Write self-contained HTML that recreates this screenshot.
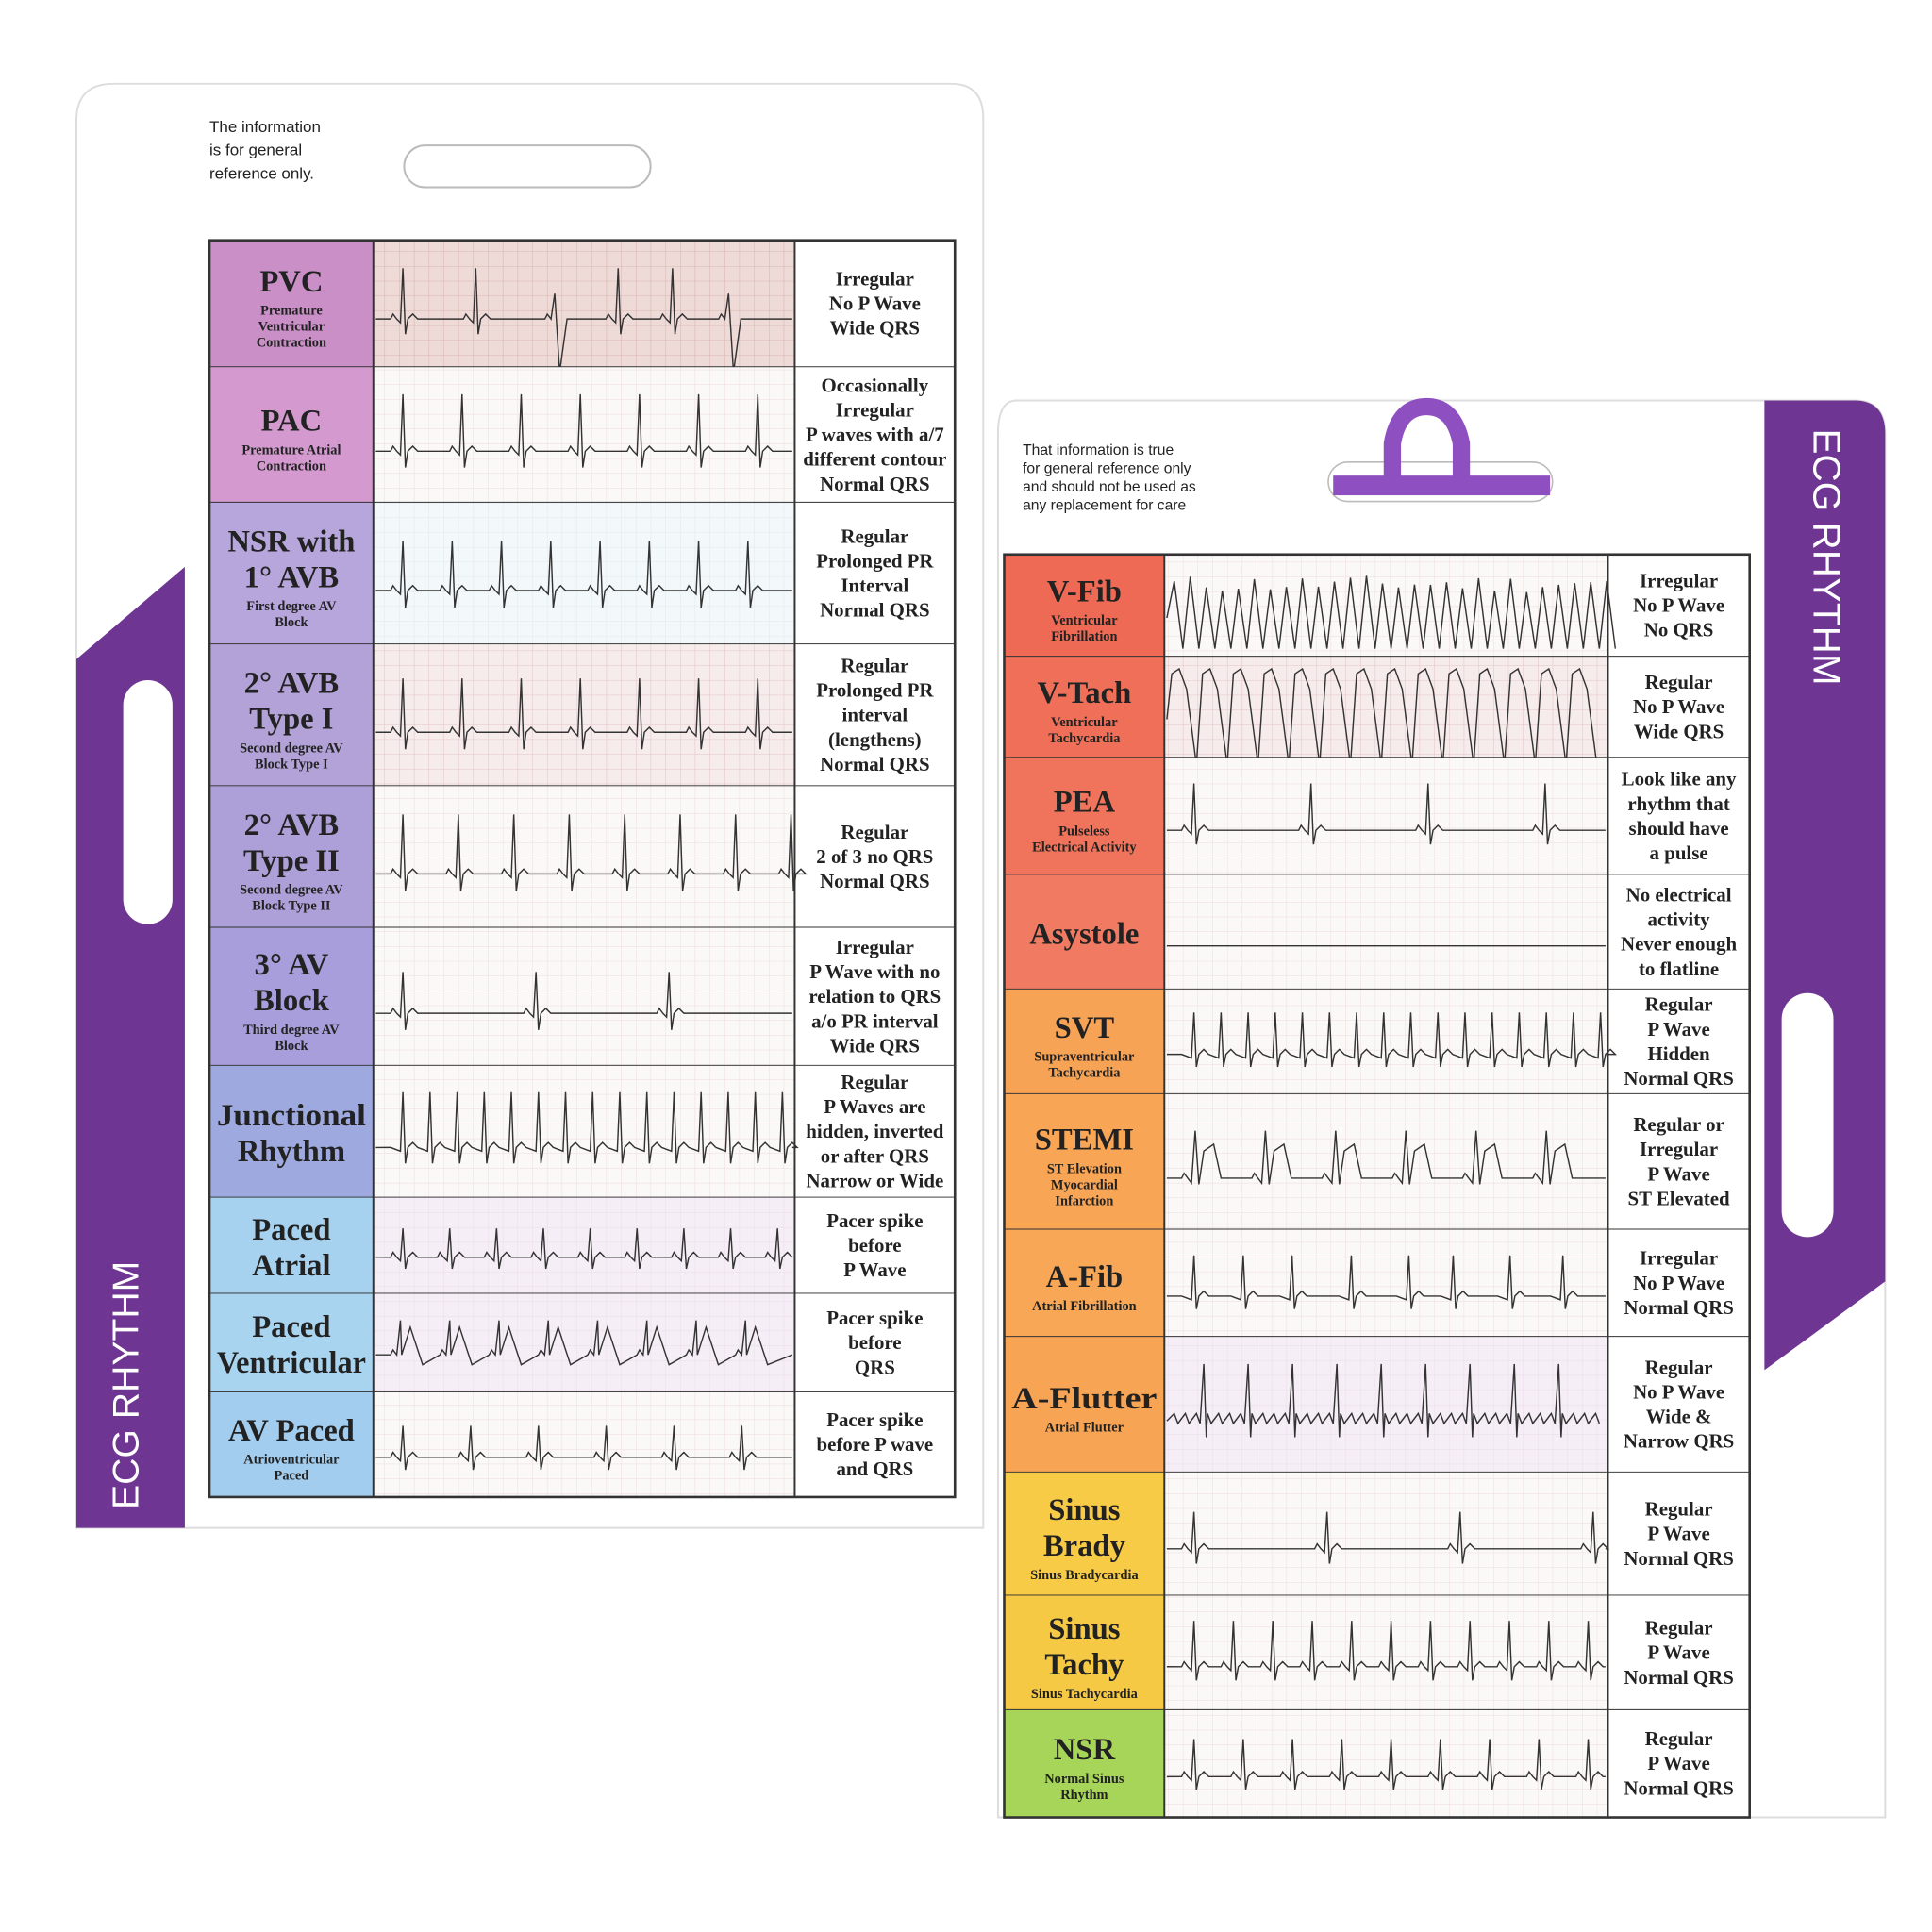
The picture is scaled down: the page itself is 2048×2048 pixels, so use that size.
<!DOCTYPE html>
<html><head><meta charset="utf-8"><style>
html,body{margin:0;padding:0;background:#fff}
svg{display:block}
text{font-family:"Liberation Serif",serif;fill:#222}
text.w{fill:#fff;font-family:"Liberation Sans",sans-serif}
</style></head><body>
<svg id="s" width="2048" height="2048" viewBox="0 0 1568 1568" xmlns="http://www.w3.org/2000/svg">
<defs>
<pattern id="gp" width="12" height="12" patternUnits="userSpaceOnUse"><rect width="12" height="12" fill="#f7ecec"/><path d="M0 0H12M0 0V12" stroke="#e2c4c4" stroke-width="0.8"/></pattern>
<pattern id="gw" width="12" height="12" patternUnits="userSpaceOnUse"><rect width="12" height="12" fill="#fbf8f8"/><path d="M0 0H12M0 0V12" stroke="#ecdcdc" stroke-width="0.7"/></pattern>
<pattern id="gd" width="12" height="12" patternUnits="userSpaceOnUse"><rect width="12" height="12" fill="#eedad6"/><path d="M0 0H12M0 0V12" stroke="#d9b5b0" stroke-width="0.8"/></pattern>
<pattern id="gb" width="12" height="12" patternUnits="userSpaceOnUse"><rect width="12" height="12" fill="#f3f8fa"/><path d="M0 0H12M0 0V12" stroke="#dfe8ee" stroke-width="0.7"/></pattern>
<pattern id="gl" width="12" height="12" patternUnits="userSpaceOnUse"><rect width="12" height="12" fill="#f6eef6"/><path d="M0 0H12M0 0V12" stroke="#e8dbe8" stroke-width="0.7"/></pattern>
</defs>
<rect width="1568" height="1568" fill="#fff"/>
<!-- left card -->
<path d="M92 68H772Q798 68 798 96V1240H62V98Q62 68 92 68Z" fill="#fff" stroke="#ddd" stroke-width="1.5"/>
<path d="M62 535L150 460V1240H62Z" fill="#6e3692"/>
<rect x="100" y="552" width="40" height="198" rx="20" fill="#fff"/>
<rect x="328" y="118" width="200" height="34" rx="17" fill="#fff" stroke="#bbb" stroke-width="1.5"/>
<text class="w" x="112" y="1225" transform="rotate(-90 112 1225)" font-size="30">ECG RHYTHM</text>
<text font-size="13" style="font-family:'Liberation Sans',sans-serif"><tspan x="170" y="107">The information</tspan><tspan x="170" y="126">is for general</tspan><tspan x="170" y="145">reference only.</tspan></text>
<!-- right card -->
<path d="M825 325H1505Q1530 325 1530 352V1475H810V352Q810 325 825 325Z" fill="#fff" stroke="#ddd" stroke-width="1.5"/>
<path d="M1432 325H1505Q1530 325 1530 352V1040L1432 1112Z" fill="#6e3692"/>
<rect x="1446" y="806" width="42" height="198" rx="21" fill="#fff"/>
<text class="w" x="1472" y="348" transform="rotate(90 1472 348)" font-size="31">ECG RHYTHM</text>
<rect x="1078" y="375" width="182" height="32" rx="16" fill="#fff" stroke="#bbb" stroke-width="1.2"/>
<path d="M1130 392V360Q1135 330 1158 330Q1180 330 1186 360V392" fill="none" stroke="#8e4fc0" stroke-width="14"/>
<rect x="1082" y="386" width="176" height="16" fill="#8e4fc0"/>
<text font-size="12" style="font-family:'Liberation Sans',sans-serif"><tspan x="830" y="369">That information is true</tspan><tspan x="830" y="384">for general reference only</tspan><tspan x="830" y="399">and should not be used as</tspan><tspan x="830" y="414">any replacement for care</tspan></text>
<g id="tables"></g>
</svg>
<script>
const NS="http://www.w3.org/2000/svg";const G=document.getElementById('tables');
function el(t,a,txt){const e=document.createElementNS(NS,t);for(const k in a)e.setAttribute(k,a[k]);if(txt!=null)e.textContent=txt;G.appendChild(e);return e;}
function ecg(x0,x1,y,h,type,seed){let r=seed;function rnd(){r=(r*9301+49297)%233280;return r/233280;}
 let d='M'+x0+' '+y;let x=x0;
 function L(px,py){d+=' L'+px.toFixed(1)+' '+py.toFixed(1);}
 if(type=='vfib'){for(;x<x1-4;x+=13){L(x+6,y-h*0.35*(0.7+rnd()*0.5));L(x+13,y+h*0.3);}return d;}
 if(type=='vtach'){for(;x<x1-20;x+=25){L(x+4,y-h*0.45);L(x+10,y-h*0.5);L(x+16,y-h*0.3);L(x+24,y+h*0.45);}return d;}
 if(type=='flat'){L(x1,y);return d;}
 if(type=='flut'){let k=0;for(;x<x1-8;x+=9){k++;if(k%4==0){L(x+3,y-h*0.42);L(x+5,y+h*0.12);}L(x+6,y-6);L(x+9,y+2);}return d;}
 const cfg={pvc:[55,.4],pac:[48,.42],avb1:[40,.35],w1:[48,.38],w2:[45,.42],chb:[108,.3],junc:[22,.42],pa:[38,.3],pv:[40,.25],avp:[55,.3],pea:[95,.4],svt:[22,.4],stemi:[57,.35],afib:[40,.38],brady:[108,.3],tachy:[32,.4],nsr:[40,.35]}[type]||[45,.4];
 const sp=cfg[0],a=cfg[1];x=x0+8;let i=0;
 while(x<x1-12){i++;const jit=(type=='afib'||type=='pvc')?(rnd()-.5)*sp*0.5:0;
  L(x+4,y);if(type!='afib'&&type!='junc'&&type!='svt'){L(x+6,y-4);L(x+9,y);}
  if(type=='pvc'&&i%3==0){L(x+12,y-h*0.2);L(x+16,y+h*0.42);L(x+22,y);}
  else if(type=='pv'){L(x+12,y-h*.35);L(x+13,y);L(x+20,y-h*0.28);L(x+30,y+h*.1);}
  else if(type=='stemi'){L(x+12,y+4);L(x+15,y-h*a);L(x+18,y+5);L(x+22,y-h*0.2);L(x+30,y-h*0.25);L(x+36,y);}
  else{L(x+12,y+3);L(x+14,y-h*a);L(x+16,y+h*0.12);L(x+18,y);L(x+22,y-4);L(x+26,y);}
  x+=sp+jit;if(x>x1-12)break;}
 L(x1,y);return d;}
function table(X,Y,cols,rows){
 const xs=[X].concat(cols);let y=Y;
 rows.forEach((r,i)=>{const h=r.h;
  el('rect',{x:X,y:y,width:xs[1]-X,height:h,fill:r.c});
  el('rect',{x:xs[1],y:y,width:xs[2]-xs[1],height:h,fill:'url(#'+(r.g||'gw')+')'});
  el('rect',{x:xs[2],y:y,width:xs[3]-xs[2],height:h,fill:'#fff'});
  el('path',{d:ecg(xs[1]+2,xs[2]-2,y+h*0.62,h,r.t,i*37+11),fill:'none',stroke:'#333','stroke-width':1.1});
  const cx=(X+xs[1])/2;const tl=r.l;const n=tl.length;const sub=r.s||[];
  const tot=n*29+sub.length*13;let ty=y+h/2-tot/2+24;
  tl.forEach(t=>{const a={x:cx,y:ty,'text-anchor':'middle','font-size':25,'font-weight':'bold'};if(t.length>8){a.textLength=xs[1]-X-12;a.lengthAdjust='spacingAndGlyphs';}el('text',a,t);ty+=29;});
  ty-=10;sub.forEach(t=>{el('text',{x:cx,y:ty,'text-anchor':'middle','font-size':11,'font-weight':'bold'},t);ty+=13;});
  const dx=(xs[2]+xs[3])/2;const dl=r.d;let dy=y+h/2-(dl.length*20)/2+15;
  dl.forEach(t=>{el('text',{x:dx,y:dy,'text-anchor':'middle','font-size':16,'font-weight':'bold'},t);dy+=20;});
  y+=h;el('line',{x1:X,y1:y,x2:xs[3],y2:y,stroke:'#333','stroke-width':1.5});
 });
 el('rect',{x:X,y:Y,width:xs[3]-X,height:y-Y,fill:'none',stroke:'#333','stroke-width':2});
 [xs[1],xs[2]].forEach(v=>el('line',{x1:v,y1:Y,x2:v,y2:y,stroke:'#333','stroke-width':1.5}));
}
table(170,195,[303,645,775],[
 {h:103,c:'#c98fc6',g:'gd',t:'pvc',l:['PVC'],s:['Premature','Ventricular','Contraction'],d:['Irregular','No P Wave','Wide QRS']},
 {h:110,c:'#d49ad0',g:'gw',t:'pac',l:['PAC'],s:['Premature Atrial','Contraction'],d:['Occasionally','Irregular','P waves with a/7','different contour','Normal QRS']},
 {h:115,c:'#b7a6dc',g:'gb',t:'avb1',l:['NSR with','1° AVB'],s:['First degree AV','Block'],d:['Regular','Prolonged PR','Interval','Normal QRS']},
 {h:115,c:'#b2a2d8',g:'gp',t:'w1',l:['2° AVB','Type I'],s:['Second degree AV','Block Type I'],d:['Regular','Prolonged PR','interval','(lengthens)','Normal QRS']},
 {h:115,c:'#ada0d8',g:'gw',t:'w2',l:['2° AVB','Type II'],s:['Second degree AV','Block Type II'],d:['Regular','2 of 3 no QRS','Normal QRS']},
 {h:112,c:'#a89edb',g:'gw',t:'chb',l:['3° AV','Block'],s:['Third degree AV','Block'],d:['Irregular','P Wave with no','relation to QRS','a/o PR interval','Wide QRS']},
 {h:107,c:'#9eaadf',g:'gw',t:'junc',l:['Junctional','Rhythm'],d:['Regular','P Waves are','hidden, inverted','or after QRS','Narrow or Wide']},
 {h:78,c:'#a6d2ef',g:'gl',t:'pa',l:['Paced','Atrial'],d:['Pacer spike','before','P Wave']},
 {h:80,c:'#a9d4f0',g:'gl',t:'pv',l:['Paced','Ventricular'],d:['Pacer spike','before','QRS']},
 {h:85,c:'#a3cdee',g:'gw',t:'avp',l:['AV Paced'],s:['Atrioventricular','Paced'],d:['Pacer spike','before P wave','and QRS']}
]);
table(815,450,[945,1305,1420],[
 {h:83,c:'#ee6a55',g:'gw',t:'vfib',l:['V-Fib'],s:['Ventricular','Fibrillation'],d:['Irregular','No P Wave','No QRS']},
 {h:82,c:'#ef6f58',g:'gp',t:'vtach',l:['V-Tach'],s:['Ventricular','Tachycardia'],d:['Regular','No P Wave','Wide QRS']},
 {h:95,c:'#f0735b',g:'gw',t:'pea',l:['PEA'],s:['Pulseless','Electrical Activity'],d:['Look like any','rhythm that','should have','a pulse']},
 {h:93,c:'#f07a62',g:'gw',t:'flat',l:['Asystole'],d:['No electrical','activity','Never enough','to flatline']},
 {h:85,c:'#f7a355',g:'gw',t:'svt',l:['SVT'],s:['Supraventricular','Tachycardia'],d:['Regular','P Wave','Hidden','Normal QRS']},
 {h:110,c:'#f8a556',g:'gw',t:'stemi',l:['STEMI'],s:['ST Elevation','Myocardial','Infarction'],d:['Regular or','Irregular','P Wave','ST Elevated']},
 {h:87,c:'#f8a757',g:'gw',t:'afib',l:['A-Fib'],s:['Atrial Fibrillation'],d:['Irregular','No P Wave','Normal QRS']},
 {h:110,c:'#f8a455',g:'gl',t:'flut',l:['A-Flutter'],s:['Atrial Flutter'],d:['Regular','No P Wave','Wide &','Narrow QRS']},
 {h:100,c:'#f7cb45',g:'gw',t:'brady',l:['Sinus','Brady'],s:['Sinus Bradycardia'],d:['Regular','P Wave','Normal QRS']},
 {h:93,c:'#f6c945',g:'gw',t:'tachy',l:['Sinus','Tachy'],s:['Sinus Tachycardia'],d:['Regular','P Wave','Normal QRS']},
 {h:87,c:'#a6d55a',g:'gw',t:'nsr',l:['NSR'],s:['Normal Sinus','Rhythm'],d:['Regular','P Wave','Normal QRS']}
]);
</script>
</body></html>
